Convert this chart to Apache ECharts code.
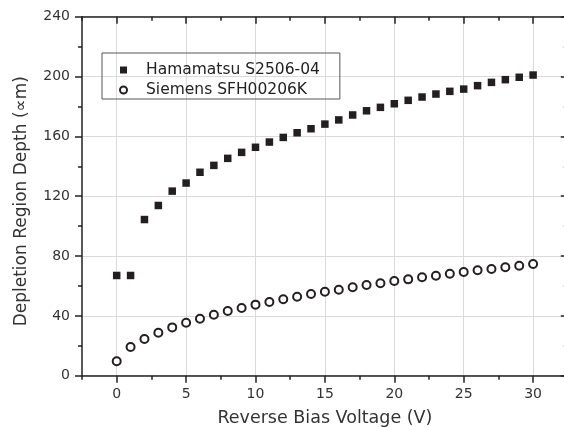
<!DOCTYPE html>
<html>
<head>
<meta charset="utf-8">
<script src="https://cdn.jsdelivr.net/npm/echarts@6/dist/echarts.min.js"></script>
<style>html,body{margin:0;padding:0;background:#fff;}#c{width:564px;height:427px;}</style>
</head>
<body>
<div id="c"></div>
<script>
// ---- data ----
const voltage = [0,1,2,3,4,5,6,7,8,9,10,11,12,13,14,15,16,17,18,19,20,21,22,23,24,25,26,27,28,29,30];
const hamamatsu = [67,67,104.4,113.8,123.4,128.8,136.0,140.6,145.3,149.3,152.7,156.2,159.3,162.4,165.1,168.2,171.0,174.3,177.1,179.4,181.8,184.1,186.3,188.3,190.1,191.6,193.9,196.1,197.9,199.5,201.0];
const siemens = [9.7,19.2,24.5,28.7,32.3,35.4,38.1,40.8,43.2,45.3,47.5,49.3,51.1,52.8,54.6,56.1,57.5,59.1,60.6,61.8,63.3,64.4,65.8,66.8,68.2,69.3,70.5,71.3,72.5,73.5,74.7];
const seriesNames = ['Hamamatsu S2506-04', 'Siemens SFH00206K'];
const xTickLabels = [0,5,10,15,20,25,30];
const yTickLabels = [0,40,80,120,160,200,240];
const xTitle = 'Reverse Bias Voltage (V)';
const yTitle = 'Depletion Region Depth (\u221Dm)';

// ---- layout ----
const FONT = 'DejaVu Sans';
const X_MIN = -2.5, X_MAX = 32.5, Y_MIN = 0, Y_MAX = 240;
const G = {left: 82, top: 16.7, right: -3.8, bottom: 51.3};
const W = 564;
const plotW = W - G.left - G.right;
const zeroLeft = G.left + (0 - X_MIN) / (X_MAX - X_MIN) * plotW;

const axisColor = '#222';
const gridColor = '#dadada';
const textColor = '#333';
const markColor = '#231f20';

const chart = echarts.init(document.getElementById('c'), null, {renderer: 'canvas'});
const pairs = vals => voltage.map((v, i) => [v, vals[i]]);
const line = {onZero: false, lineStyle: {color: axisColor, width: 1.5}};
const noLine = {show: false, onZero: false};

chart.setOption({
  animation: false,
  backgroundColor: '#fff',
  grid: [
    {left: G.left, top: G.top, right: G.right, bottom: G.bottom, containLabel: false, outerBoundsMode: 'none'},
    {left: zeroLeft, top: G.top, right: G.right, bottom: G.bottom, containLabel: false, outerBoundsMode: 'none'}
  ],
  legend: {
    orient: 'vertical', left: 102, top: 53,
    padding: [9, 20, 1, 17],
    itemWidth: 7, itemHeight: 7, itemGap: 4,
    borderColor: '#555', borderWidth: 1,
    itemStyle: {opacity: 1},
    textStyle: {fontFamily: FONT, fontSize: 15.5, color: '#222', lineHeight: 16, padding: [0, 0, 0, 14]},
    data: [{name: seriesNames[0], icon: 'rect'}, {name: seriesNames[1], icon: 'emptyCircle'}]
  },
  xAxis: [
    {gridIndex: 0, type: 'value', position: 'bottom', min: X_MIN, max: X_MAX, interval: 2.5,
     axisLine: line,
     axisTick: {length: 4, lineStyle: {color: axisColor, width: 1.5}},
     axisLabel: {show: false}, splitLine: {show: false},
     name: xTitle, nameLocation: 'middle', nameGap: 34,
     nameTextStyle: {fontFamily: FONT, fontSize: 17.5, color: textColor}},
    {gridIndex: 0, type: 'value', position: 'top', min: X_MIN, max: X_MAX, interval: 2.5,
     axisLine: line,
     axisTick: {inside: true, length: 4, lineStyle: {color: axisColor, width: 1.5}},
     axisLabel: {show: false}, splitLine: {show: false}},
    {gridIndex: 1, type: 'value', position: 'bottom', min: 0, max: X_MAX, interval: 5,
     axisLine: noLine,
     axisTick: {length: 7, lineStyle: {color: axisColor, width: 1.5}},
     axisLabel: {margin: 12, fontFamily: FONT, fontSize: 14, color: textColor,
       formatter: v => xTickLabels.includes(v) ? String(v) : ''},
     splitLine: {show: true, lineStyle: {color: gridColor, width: 1}}},
    {gridIndex: 1, type: 'value', position: 'top', min: 0, max: X_MAX, interval: 5,
     axisLine: noLine,
     axisTick: {inside: true, length: 7, lineStyle: {color: axisColor, width: 1.5}},
     axisLabel: {show: false}, splitLine: {show: false}}
  ],
  yAxis: [
    {gridIndex: 0, type: 'value', position: 'left', min: Y_MIN, max: Y_MAX, interval: 40,
     axisLine: Object.assign({show: true}, line),
     axisTick: {length: 7, lineStyle: {color: axisColor, width: 1.5}},
     minorTick: {show: true, splitNumber: 2, length: 4, lineStyle: {color: axisColor, width: 1.5}},
     axisLabel: {margin: 12, fontFamily: FONT, fontSize: 14, color: textColor,
       formatter: v => yTickLabels.includes(v) ? String(v) : ''},
     splitLine: {show: true, lineStyle: {color: gridColor, width: 1}},
     name: yTitle, nameLocation: 'middle', nameGap: 52,
     nameTextStyle: {fontFamily: FONT, fontSize: 17, color: textColor, padding: [0, 10, 0, 0]}},
    {gridIndex: 0, type: 'value', position: 'right', min: Y_MIN, max: Y_MAX, interval: 40,
     axisLine: Object.assign({show: true}, line),
     axisTick: {inside: true, length: 7, lineStyle: {color: axisColor, width: 1.5}},
     minorTick: {show: true, splitNumber: 2, length: 4, lineStyle: {color: axisColor, width: 1.5}},
     axisLabel: {show: false}, splitLine: {show: false}},
    {gridIndex: 1, type: 'value', min: Y_MIN, max: Y_MAX, show: false}
  ],
  series: [
    {name: seriesNames[0], type: 'scatter', xAxisIndex: 0, yAxisIndex: 0,
     symbol: 'rect', symbolSize: 7.5,
     itemStyle: {color: markColor, opacity: 1},
     data: pairs(hamamatsu)},
    {name: seriesNames[1], type: 'scatter', xAxisIndex: 0, yAxisIndex: 0,
     symbol: 'emptyCircle', symbolSize: 8,
     itemStyle: {color: markColor, borderColor: '#333', borderWidth: 0.8, opacity: 1},
     data: pairs(siemens)}
  ]
});
</script>
</body>
</html>
